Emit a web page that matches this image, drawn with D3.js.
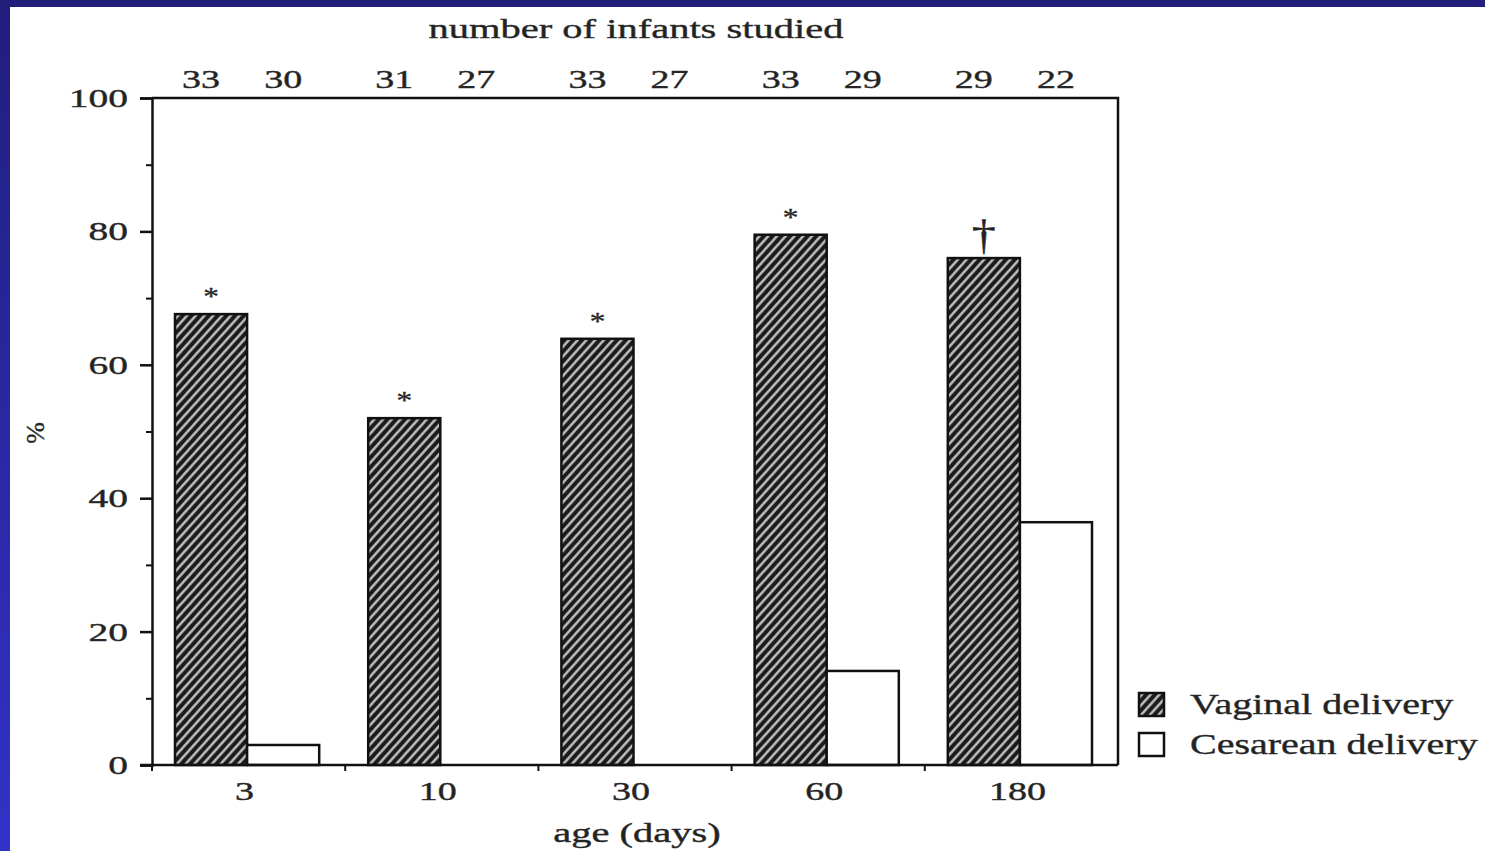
<!DOCTYPE html>
<html>
<head>
<meta charset="utf-8">
<script src="https://cdnjs.cloudflare.com/ajax/libs/d3/7.8.5/d3.min.js"></script>
<style>
  html, body { margin: 0; padding: 0; background: #fff; }
  svg text { font-family: "Liberation Serif", "Times New Roman", serif; fill: #222; stroke: #333; stroke-width: 0.4px; }
</style>
</head>
<body>
<div id="chart"></div>
<script>
var width = 1485;
var height = 851;

// data
var ages = ["3", "10", "30", "60", "180"];
var vaginal = [67.6, 52.0, 63.9, 79.5, 76.0];
var cesarean = [3.0, 0, 0, 14.1, 36.4];
var nVaginal = ["33", "31", "33", "33", "29"];
var nCesarean = ["30", "27", "27", "29", "22"];
var marks = ["*", "*", "*", "*", "\u2020"];
var yTicks = [0, 20, 40, 60, 80, 100];
var yMinor = [10, 30, 50, 70, 90];
var seriesNames = ["Vaginal delivery", "Cesarean delivery"];

var plotLeft = 152, plotRight = 1118, plotTop = 98, plotBottom = 765;
var sx = 1.52; // the scanned figure is stretched sideways

var svg = d3.select("#chart").append("svg")
  .attr("width", width)
  .attr("height", height);

var defs = svg.append("defs");
var grad = defs.append("linearGradient")
  .attr("id", "edge")
  .attr("x1", "0%").attr("y1", "0%")
  .attr("x2", "0%").attr("y2", "100%");
grad.append("stop").attr("offset", "0%").attr("stop-color", "#211e7c");
grad.append("stop").attr("offset", "100%").attr("stop-color", "#3232c8");

var hatch = defs.append("pattern")
  .attr("id", "hatch")
  .attr("patternUnits", "userSpaceOnUse")
  .attr("width", 6.5)
  .attr("height", 6.5)
  .attr("patternTransform", "rotate(42)");
hatch.append("rect").attr("width", 6.5).attr("height", 6.5).attr("fill", "#1c1c1c");
hatch.append("line")
  .attr("x1", 3.2).attr("y1", 0).attr("x2", 3.2).attr("y2", 6.5)
  .attr("stroke", "#c4c4c4")
  .attr("stroke-width", 2.4);

svg.append("rect").attr("width", width).attr("height", height).attr("fill", "#fff");
// blue frame of the slide
svg.append("rect").attr("x", 0).attr("y", 0).attr("width", 10).attr("height", height).attr("fill", "url(#edge)");
svg.append("rect").attr("x", 0).attr("y", 0).attr("width", width).attr("height", 7).attr("fill", "#211e7c");

var x0 = d3.scaleBand().domain(ages).range([plotLeft, plotRight]);
var x1 = d3.scaleBand().domain([0, 1]).range([23, x0.bandwidth() - 26]);
var y = d3.scaleLinear().domain([0, 100]).range([plotBottom, plotTop]);

// stretched text helper
function label(g, x, yy, txt, size, anchor, k) {
  return g.append("text")
    .attr("transform", "translate(" + x + "," + yy + ") scale(" + (k || sx) + ",1)")
    .attr("text-anchor", anchor || "middle")
    .style("font-size", size + "px")
    .text(txt);
}

// bars
var groups = svg.selectAll("g.grp")
  .data(ages)
  .enter().append("g")
  .attr("class", "grp")
  .attr("transform", function(d) { return "translate(" + x0(d) + ",0)"; });

groups.append("rect")
  .attr("x", x1(0))
  .attr("width", x1.bandwidth())
  .attr("y", function(d, i) { return y(vaginal[i]); })
  .attr("height", function(d, i) { return plotBottom - y(vaginal[i]); })
  .attr("fill", "url(#hatch)")
  .attr("stroke", "#111")
  .attr("stroke-width", 2.5);

groups.filter(function(d, i) { return cesarean[i] > 0; })
  .append("rect")
  .attr("x", x1(1))
  .attr("width", x1.bandwidth())
  .attr("y", function(d) { return y(cesarean[ages.indexOf(d)]); })
  .attr("height", function(d) { return plotBottom - y(cesarean[ages.indexOf(d)]); })
  .attr("fill", "#fff")
  .attr("stroke", "#111")
  .attr("stroke-width", 2.5);

// significance marks, counts and category labels
ages.forEach(function(a, i) {
  var cx = x0(a) + x1(0) + x1.bandwidth() / 2;
  if (marks[i] === "*") {
    label(svg, cx, y(vaginal[i]) - 9, "*", 26, "middle", 1.2);
  } else {
    label(svg, cx, y(vaginal[i]) - 9, marks[i], 42, "middle", 1.15);
  }
  label(svg, cx - 10, 88, nVaginal[i], 25);
  label(svg, x0(a) + x1(1) + x1.bandwidth() / 2, 88, nCesarean[i], 25);
  label(svg, x0(a) + x0.bandwidth() / 2 - 4, 800, a, 25);
});

// frame
svg.append("path")
  .attr("d", "M" + plotLeft + "," + plotTop + "H" + plotRight + "V" + plotBottom)
  .attr("fill", "none")
  .attr("stroke", "#111")
  .attr("stroke-width", 2.5);

// y axis
var yAxis = d3.axisLeft(y).tickValues(yTicks).tickSize(12).tickFormat("");
var gy = svg.append("g").attr("transform", "translate(" + plotLeft + ",0)").call(yAxis);
gy.select(".domain").attr("stroke", "#111").attr("stroke-width", 2.5);
gy.selectAll(".tick line").attr("stroke", "#111").attr("stroke-width", 2.5);
yTicks.forEach(function(d) {
  label(svg, 128, y(d) + 9, d3.format("d")(d), 25, "end", 1.58);
});
svg.append("g").attr("transform", "translate(" + plotLeft + ",0)")
  .call(d3.axisLeft(y).tickValues(yMinor).tickSize(6).tickFormat(""))
  .call(function(g) {
    g.select(".domain").remove();
    g.selectAll("line").attr("stroke", "#111").attr("stroke-width", 2);
  });

// x axis: ticks at category boundaries
var gx = svg.append("g").attr("transform", "translate(0," + plotBottom + ")");
gx.append("line").attr("x1", plotLeft - 12).attr("x2", plotRight).attr("stroke", "#111").attr("stroke-width", 2.5);
gx.selectAll("line.b")
  .data(ages)
  .enter().append("line")
  .attr("class", "b")
  .attr("x1", function(d) { return x0(d); })
  .attr("x2", function(d) { return x0(d); })
  .attr("y2", 6)
  .attr("stroke", "#111")
  .attr("stroke-width", 2);

// titles
label(svg, 636, 38, "number of infants studied", 27, "middle", 1.5);
label(svg, 637, 842, "age (days)", 27, "middle", 1.5);
svg.append("text")
  .attr("transform", "translate(44,433) rotate(-90)")
  .attr("text-anchor", "middle")
  .style("font-size", "26px")
  .text("%");

// legend
var legend = svg.selectAll("g.leg")
  .data(seriesNames)
  .enter().append("g")
  .attr("class", "leg")
  .attr("transform", function(d, i) { return "translate(1139," + (693 + i * 40) + ")"; });
legend.append("rect")
  .attr("width", 25).attr("height", 23)
  .attr("fill", function(d, i) { return i === 0 ? "url(#hatch)" : "#fff"; })
  .attr("stroke", "#111")
  .attr("stroke-width", 2.5);
legend.each(function(d) {
  label(d3.select(this), 51, 21, d, 29, "start", 1.38);
});
</script>
</body>
</html>
